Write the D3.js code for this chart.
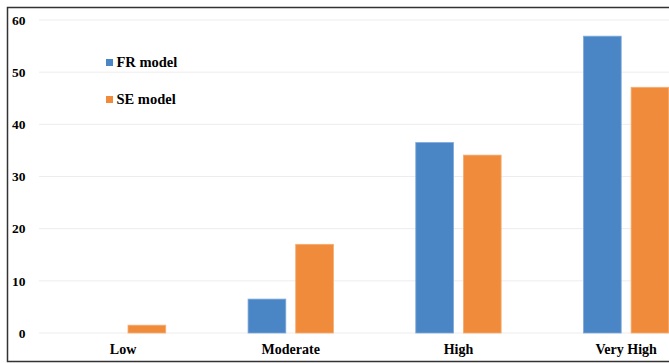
<!DOCTYPE html>
<html>
<head>
<meta charset="utf-8">
<script src="https://cdn.jsdelivr.net/npm/d3@7"></script>
<style>
  html, body { margin: 0; padding: 0; background: #fff; }
  svg { display: block; }
</style>
</head>
<body>
<div id="chart"></div>
<script>
// Susceptibility classes and percentage of area per model
const categories = ["Low", "Moderate", "High", "Very High"];
const seriesNames = ["FR model", "SE model"];
const frValues = [0, 6.5, 36.5, 56.9];
const seValues = [1.5, 17.0, 34.1, 47.1];
const yTicks = [0, 10, 20, 30, 40, 50, 60];

const colors = { "FR model": "#4a86c6", "SE model": "#f08b3b" };
const strokes = { "FR model": "#7ea9da", "SE model": "#f6ad72" };

const W = 669, H = 363;
const svg = d3.select("#chart").append("svg")
  .attr("width", W).attr("height", H)
  .style("overflow", "hidden");

const font = "'Liberation Serif', 'Times New Roman', serif";

// plot area extends past the right edge of the view
const x0 = d3.scaleBand()
  .domain(categories)
  .range([39.2, 710])
  .paddingInner(0.491)
  .paddingOuter(0.2455);

const x1 = d3.scaleBand()
  .domain(seriesNames)
  .range([0, x0.bandwidth()])
  .paddingInner(0.208)
  .paddingOuter(0);

const y = d3.scaleLinear().domain([0, 60]).range([333, 20]);

// gridlines
svg.append("g")
  .selectAll("line")
  .data(yTicks)
  .join("line")
  .attr("x1", 39).attr("x2", W)
  .attr("y1", d => y(d)).attr("y2", d => y(d))
  .attr("stroke", "#ededed").attr("stroke-width", 1);

// y axis labels
const yAxis = d3.axisLeft(y).tickValues(yTicks).tickSize(0).tickPadding(0);
const gy = svg.append("g").attr("transform", "translate(25.5,0)").call(yAxis);
gy.select(".domain").remove();
gy.selectAll("text")
  .attr("font-family", font).attr("font-weight", "bold")
  .attr("font-size", "13.5px").attr("fill", "#000");

// bars
const rows = categories.map((c, i) => ({
  category: c,
  values: [
    { series: "FR model", value: frValues[i] },
    { series: "SE model", value: seValues[i] }
  ]
}));

svg.append("g")
  .selectAll("g")
  .data(rows)
  .join("g")
  .attr("transform", d => `translate(${x0(d.category)},0)`)
  .selectAll("rect")
  .data(d => d.values.filter(v => v.value > 0))
  .join("rect")
  .attr("x", d => x1(d.series))
  .attr("width", x1.bandwidth())
  .attr("y", d => y(d.value))
  .attr("height", d => y(0) - y(d.value))
  .attr("fill", d => colors[d.series])
  .attr("stroke", d => strokes[d.series])
  .attr("stroke-width", 0.8);

// category labels
const xAxis = d3.axisBottom(x0).tickSize(0).tickPadding(0);
const gx = svg.append("g").attr("transform", "translate(0,344)").call(xAxis);
gx.select(".domain").remove();
gx.selectAll("text")
  .attr("dy", "0.71em")
  .attr("font-family", font).attr("font-weight", "bold")
  .attr("font-size", "14px").attr("fill", "#000");

// legend
const legend = svg.append("g")
  .selectAll("g")
  .data(seriesNames)
  .join("g")
  .attr("transform", (d, i) => `translate(106,${59 + i * 37})`);
legend.append("rect")
  .attr("width", 7).attr("height", 7)
  .attr("fill", d => colors[d]);
legend.append("text")
  .attr("x", 10.5).attr("y", 7.5)
  .attr("font-family", font).attr("font-weight", "bold")
  .attr("font-size", "14.5px").attr("fill", "#000")
  .text(d => d);

// outer frame
svg.append("rect")
  .attr("x", 7.5).attr("y", 7.5)
  .attr("width", 720).attr("height", 354)
  .attr("fill", "none")
  .attr("stroke", "#333").attr("stroke-width", 1.5);
</script>
</body>
</html>
